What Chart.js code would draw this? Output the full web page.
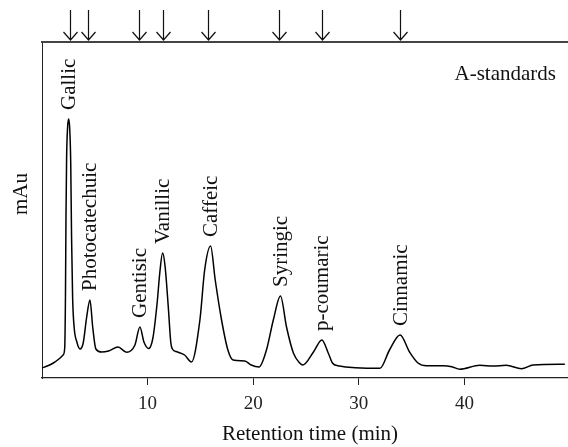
<!DOCTYPE html>
<html>
<head>
<meta charset="utf-8">
<script src="https://cdn.jsdelivr.net/npm/chart.js@4/dist/chart.umd.min.js"></script>
<style>
  html, body { margin: 0; padding: 0; background: #fff; }
  canvas { display: block; }
</style>
</head>
<body>
<canvas id="chart" width="568" height="447"></canvas>
<script>
// retention time (min) and detector signal (mAu, arbitrary units)
const retentionTime = [
  0.0, 0.5, 1.07, 1.6, 2.0, 2.15, 2.22, 2.27, 2.33, 2.42, 2.52, 2.62, 2.72, 2.8, 2.9,
  3.05, 3.3, 3.6, 3.9, 4.23, 4.54, 4.8, 5.1, 5.65, 6.3, 7.2, 8.0, 8.8, 9.27, 9.65,
  10.1, 10.5, 10.9, 11.15, 11.42, 11.65, 11.95, 12.2, 12.35, 12.7, 13.5, 14.15,
  14.95, 15.4, 15.96, 16.4, 17.0, 17.6, 18.1, 19.2, 19.8, 20.55, 21.25, 21.9, 22.58,
  23.15, 23.8, 24.4, 24.7, 25.7, 26.5, 27.1, 27.5, 28.0, 32.0, 32.9, 33.9, 34.8,
  35.6, 36.4, 37.97, 38.8, 39.55, 41.45, 42.7, 43.96, 45.4, 46.5, 49.5
];
const signal = [
  10, 12, 15, 19, 23, 30, 80, 160, 220, 250, 259, 250, 215, 140, 80,
  50, 36, 29, 35, 61, 78, 51, 29, 26, 27, 31, 25.7, 33, 51, 36,
  29.5, 40, 75, 105, 125, 112, 72, 35, 29, 26.5, 23, 16,
  58, 108, 132, 98, 58, 28, 18, 17, 13, 11, 28, 58, 82,
  51, 25, 15, 13, 26, 38, 25, 15, 12.3, 9.7, 28, 43, 26,
  15, 12.3, 12.3, 11.3, 8.7, 12.7, 12, 12.7, 9.3, 13, 13.7
];

const peakNames = ["Gallic", "Photocatechuic", "Gentisic", "Vanillic", "Caffeic", "Syringic", "p-coumaric", "Cinnamic"];
const peakTimes = [2.52, 4.54, 9.27, 11.42, 15.96, 22.58, 26.5, 33.9];
const arrowTimes = [2.65, 4.35, 9.2, 11.45, 15.7, 22.4, 26.5, 33.9];
const xTicks = [10, 20, 30, 40];

const serif = "'Liberation Serif', 'DejaVu Serif', serif";

const points = retentionTime.map((t, i) => ({x: t, y: signal[i]}));

const annotations = {
  id: 'annotations',
  afterDraw(chart) {
    const ctx = chart.ctx;
    const xs = chart.scales.x, ys = chart.scales.y;
    const area = chart.chartArea;
    ctx.save();

    // top frame line
    ctx.strokeStyle = '#444';
    ctx.lineWidth = 1.8;
    ctx.beginPath();
    ctx.moveTo(area.left - 1, area.top);
    ctx.lineTo(chart.width, area.top);
    ctx.stroke();

    // arrows above the frame
    ctx.strokeStyle = '#111';
    ctx.lineWidth = 1.2;
    arrowTimes.forEach(t => {
      const x = Math.round(xs.getPixelForValue(t)) + 0.5;
      ctx.beginPath();
      ctx.moveTo(x, 10);
      ctx.lineTo(x, area.top - 2);
      ctx.moveTo(x - 7, area.top - 10);
      ctx.lineTo(x, area.top - 2);
      ctx.lineTo(x + 7, area.top - 10);
      ctx.stroke();
    });

    ctx.fillStyle = '#111';
    ctx.font = '21px ' + serif;

    // peak labels, rotated
    peakNames.forEach((name, i) => {
      const idx = retentionTime.indexOf(peakTimes[i]);
      const x = xs.getPixelForValue(peakTimes[i]);
      const y = ys.getPixelForValue(signal[idx]) - 9;
      ctx.save();
      ctx.translate(x + 1, y);
      ctx.rotate(-Math.PI / 2);
      ctx.textAlign = 'left';
      ctx.textBaseline = 'middle';
      ctx.fillText(name, 0, 0);
      ctx.restore();
    });

    // series name
    ctx.textAlign = 'right';
    ctx.textBaseline = 'alphabetic';
    ctx.fillText('A-standards', 556, 80);

    // axis titles
    ctx.textAlign = 'center';
    ctx.textBaseline = 'middle';
    ctx.fillText('Retention time (min)', 310, 434);
    ctx.save();
    ctx.translate(21, 194);
    ctx.rotate(-Math.PI / 2);
    ctx.fillText('mAu', 0, 0);
    ctx.restore();

    ctx.restore();
  }
};

new Chart(document.getElementById('chart'), {
  type: 'line',
  data: {
    datasets: [{
      data: points,
      borderColor: '#000',
      borderWidth: 1.5,
      pointRadius: 0,
      fill: false,
      cubicInterpolationMode: 'monotone'
    }]
  },
  options: {
    responsive: false,
    animation: false,
    layout: { padding: { top: 42, right: 0, bottom: 0, left: 0 } },
    plugins: { legend: { display: false }, tooltip: { enabled: false } },
    scales: {
      x: {
        type: 'linear',
        min: 0,
        max: 49.8,
        afterBuildTicks: s => { s.ticks = xTicks.map(v => ({value: v})); },
        afterFit: s => { s.height = 69; },
        ticks: { color: '#222', font: { family: serif, size: 19 }, padding: 8, maxRotation: 0 },
        grid: { drawOnChartArea: false, drawTicks: true, tickLength: 7, color: '#222' },
        border: { display: true, color: '#222', width: 1.3 }
      },
      y: {
        min: 0,
        max: 336,
        afterFit: s => { s.width = 42; },
        ticks: { display: false },
        grid: { drawOnChartArea: false, drawTicks: false },
        border: { display: true, color: '#222', width: 1 }
      }
    }
  },
  plugins: [annotations]
});
</script>
</body>
</html>
